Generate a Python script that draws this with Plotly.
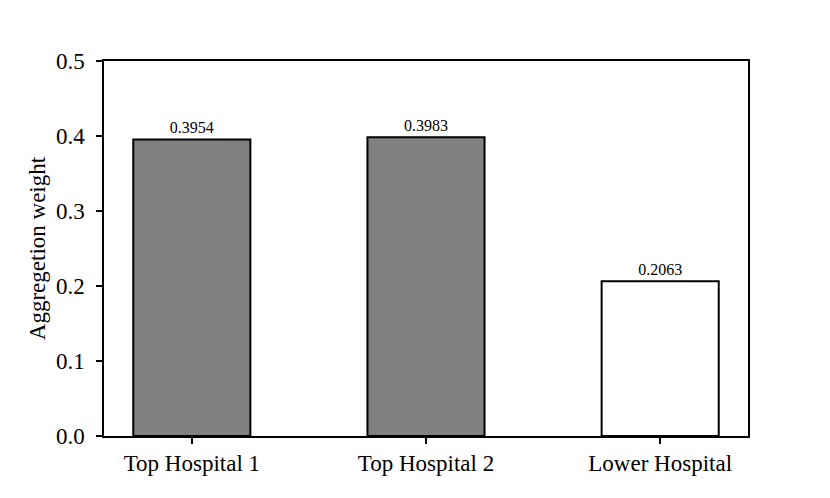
import plotly.graph_objects as go

categories = ["Top Hospital 1", "Top Hospital 2", "Lower Hospital"]
values = [0.3954, 0.3983, 0.2063]
labels = ["0.3954", "0.3983", "0.2063"]
fills = ["#808080", "#808080", "#ffffff"]
yticks = [0.0, 0.1, 0.2, 0.3, 0.4, 0.5]

font = "Liberation Serif"

fig = go.Figure()
fig.add_trace(go.Bar(
    x=list(range(len(categories))), y=values,
    width=0.5,
    marker=dict(color=fills, line=dict(color="black", width=2)),
    text=labels, textposition="outside",
    textfont=dict(family=font, size=16, color="black"),
    cliponaxis=False,
))
fig.update_layout(
    width=830, height=498,
    margin=dict(l=96, r=90, t=53, b=70),
    paper_bgcolor="white", plot_bgcolor="white",
    showlegend=False,
    font=dict(family=font, color="black"),
    xaxis=dict(
        range=[-0.375, 2.375],
        tickmode="array", tickvals=list(range(len(categories))), ticktext=categories,
        tickfont=dict(family=font, size=23), ticks="outside", ticklen=6, tickwidth=1.5, tickcolor="black",
        showline=True, linecolor="black", linewidth=1.5, mirror=True,
        showgrid=False, zeroline=False,
    ),
    yaxis=dict(
        range=[0, 0.5],
        tickmode="array", tickvals=yticks, ticktext=[f"{v:.1f}" for v in yticks],
        tickfont=dict(family=font, size=23), ticks="outside", ticklen=6, tickwidth=1.5, tickcolor="black",
        ticklabelstandoff=7,
        showline=True, linecolor="black", linewidth=1.5, mirror=True,
        showgrid=False, zeroline=False,
        title=dict(text="Aggregetion weight", font=dict(family=font, size=23), standoff=4),
    ),
)
fig.write_html("out.html")
